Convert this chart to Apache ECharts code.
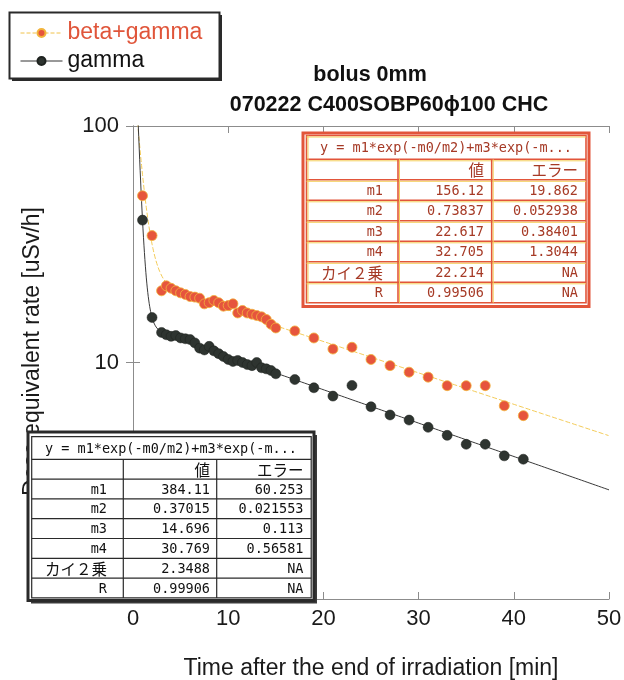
<!DOCTYPE html>
<html>
<head>
<meta charset="utf-8">
<script src="https://cdn.jsdelivr.net/npm/echarts@6/dist/echarts.min.js"></script>
<style>
  html, body { margin: 0; padding: 0; background: #ffffff; }
  #chart { width: 624px; height: 680px; }
</style>
</head>
<body>
<div id="chart"></div>
<script>
// Measurement times after the end of irradiation [min]
const timeMin = [
  1, 2,
  3, 3.5, 4, 4.5, 5, 5.5, 6, 6.5, 7, 7.5, 8, 8.5, 9, 9.5, 10, 10.5, 11, 11.5, 12, 12.5, 13, 13.5, 14, 14.5, 15,
  17, 19, 21, 23, 25, 27, 29, 31, 33, 35, 37, 39, 41
];
// Dose equivalent rate [uSv/h], beta+gamma
const doseBetaGamma = [
  50.7, 34.4,
  20.1, 21.1, 20.6, 20.1, 19.7, 19.4, 19.0, 18.9, 18.7, 17.7, 17.9, 18.3, 17.9, 17.3, 17.4, 17.7, 16.2, 16.6, 16.2, 16.0, 15.8, 15.6, 15.2, 14.5, 14.0,
  13.6, 12.7, 11.4, 11.6, 10.3, 9.7, 9.1, 8.67, 7.98, 7.98, 7.98, 6.56, 5.96
];
// Dose equivalent rate [uSv/h], gamma only
const doseGamma = [
  40.0, 15.5,
  13.4, 13.1, 12.9, 13.0, 12.7, 12.6, 12.5, 12.1, 11.5, 11.3, 11.7, 11.2, 10.9, 10.6, 10.3, 10.1, 10.2, 10.0, 9.8, 9.7, 10.0, 9.5, 9.4, 9.25, 8.96,
  8.47, 7.82, 7.21, 8.0, 6.5, 6.0, 5.71, 5.32, 4.92, 4.51, 4.51, 4.03, 3.90
];

// Axis ranges
const xRange = [0, 50];
const xStep = 10;
const yRange = [1, 100];

// Two-exponential fit parameters [m1, m2, m3, m4]
const fitBetaGamma = [156.12, 0.73837, 22.617, 32.705];
const fitGamma = [384.11, 0.37015, 14.696, 30.769];

// Fit result tables
const fitFormula = 'y = m1*exp(-m0/m2)+m3*exp(-m...';
const fitRowNames = ['', 'm1', 'm2', 'm3', 'm4', 'カイ２乗', 'R'];
const fitBGValues = ['値', '156.12', '0.73837', '22.617', '32.705', '22.214', '0.99506'];
const fitBGErrors = ['エラー', '19.862', '0.052938', '0.38401', '1.3044', 'NA', 'NA'];
const fitGValues = ['値', '384.11', '0.37015', '14.696', '30.769', '2.3488', '0.99906'];
const fitGErrors = ['エラー', '60.253', '0.021553', '0.113', '0.56581', 'NA', 'NA'];

const titleLines = ['bolus 0mm', '070222 C400SOBP60ϕ100 CHC'];

// ---- helpers ----
function pairs(xs, ys) { return xs.map((x, i) => [x, ys[i]]); }

// y = m1*exp(-t/m2) + m3*exp(-t/m4), sampled along the x range
function fitLine(p) {
  const out = [];
  for (let i = 0; i <= 1000; i++) {
    const t = xRange[0] + (xRange[1] - xRange[0]) * i / 1000;
    out.push([t, p[0] * Math.exp(-t / p[1]) + p[2] * Math.exp(-t / p[3])]);
  }
  return out;
}

const monoFont = "'DejaVu Sans Mono', 'Liberation Mono', monospace";
const cjkFont = "'Noto Sans CJK JP', sans-serif";

function cellText(str, x, y, align, color, z) {
  const cjk = /[^\x00-\x7f]/.test(str);
  return {
    type: 'text', z: z, silent: true,
    style: {
      text: str, x: x, y: y, align: align, verticalAlign: 'middle',
      fill: color,
      font: cjk ? ('15.5px ' + cjkFont) : ('13.5px ' + monoFont)
    }
  };
}

function hLine(x1, x2, y, color, w, z) {
  return { type: 'line', z: z, silent: true, shape: { x1: x1, y1: y, x2: x2, y2: y }, style: { stroke: color, lineWidth: w } };
}
function vLine(x, y1, y2, color, w, z) {
  return { type: 'line', z: z, silent: true, shape: { x1: x, y1: y1, x2: x, y2: y2 }, style: { stroke: color, lineWidth: w } };
}

function fitTable(t, values, errors) {
  const z = 60;
  const els = [];
  if (t.shadow) {
    els.push({ type: 'rect', z: z, silent: true,
      shape: { x: t.outer[0] + 3, y: t.outer[1] + 3, width: t.outer[2] - t.outer[0], height: t.outer[3] - t.outer[1] },
      style: { fill: t.shadow } });
  }
  els.push({ type: 'rect', z: z + 1, silent: true,
    shape: { x: t.outer[0], y: t.outer[1], width: t.outer[2] - t.outer[0], height: t.outer[3] - t.outer[1] },
    style: { fill: '#ffffff', stroke: t.line, lineWidth: t.outerW } });
  const bottom = t.headBottom + t.rowH * 7;
  els.push({ type: 'rect', z: z + 2, silent: true,
    shape: { x: t.left, y: t.top, width: t.right - t.left, height: bottom - t.top },
    style: { fill: 'none', stroke: t.line, lineWidth: t.innerW } });
  // row rules
  for (let r = 0; r < 7; r++) {
    const y = t.headBottom + t.rowH * r;
    els.push(hLine(t.left, t.right, y, t.line, t.innerW, z + 2));
    if (t.hi) els.push(hLine(t.left, t.right, y + 1.5, t.hi, 1, z + 2));
  }
  // column rules
  t.cols.forEach(cx => {
    els.push(vLine(cx, t.headBottom, bottom, t.line, t.innerW, z + 2));
    if (t.hi) els.push(vLine(cx + 1.5, t.headBottom, bottom, t.hi, 1, z + 2));
  });
  if (t.hi) {
    els.push(vLine(t.left + 1.5, t.top, bottom, t.hi, 1, z + 2));
    els.push(hLine(t.left, t.right, t.top + 1.5, t.hi, 1, z + 2));
  }
  // formula row
  els.push(cellText(fitFormula, t.formulaX, (t.top + t.headBottom) / 2 + 1, 'left', t.text, z + 3));
  for (let r = 0; r < 7; r++) {
    const cy = t.headBottom + t.rowH * (r + 0.5) + 1;
    if (fitRowNames[r]) els.push(cellText(fitRowNames[r], t.textX[0], cy, 'right', t.text, z + 3));
    els.push(cellText(values[r], t.textX[1], cy, 'right', t.text, z + 3));
    els.push(cellText(errors[r], t.textX[2], cy, 'right', t.text, z + 3));
  }
  return els;
}

const tableBG = {
  outer: [303, 133, 589, 306.5], outerW: 3,
  left: 306.5, right: 586, top: 135.5, headBottom: 159.3, rowH: 20.5,
  cols: [398, 491.7], textX: [383, 484, 578], formulaX: 320,
  line: '#e2553a', hi: '#f4cf5c', innerW: 1.6, text: '#a63a26', shadow: null
};
const tableG = {
  outer: [28, 432, 314, 600.5], outerW: 3,
  left: 31.7, right: 311.2, top: 436.7, headBottom: 459.3, rowH: 19.8,
  cols: [123.3, 216.7], textX: [107, 210, 303.5], formulaX: 45,
  line: '#2a2a2a', hi: null, innerW: 1.2, text: '#111111', shadow: '#3a3a3a'
};

const legendBox = [
  { type: 'rect', z: 1, silent: true, shape: { x: 12, y: 15, width: 210, height: 66 }, style: { fill: '#2a2a2a' } },
  { type: 'rect', z: 1, silent: true, shape: { x: 9.5, y: 12.5, width: 210, height: 66 }, style: { fill: '#ffffff', stroke: '#2a2a2a', lineWidth: 2 } }
];

const titleFont = "bold 21.5px 'Liberation Sans', Arial, sans-serif";
const titleEls = [
  { type: 'text', z: 5, silent: true, style: { text: titleLines[0], x: 370, y: 75, align: 'center', verticalAlign: 'middle', fill: '#111', font: titleFont } },
  { type: 'text', z: 5, silent: true, style: { text: titleLines[1], x: 389, y: 105, align: 'center', verticalAlign: 'middle', fill: '#111', font: titleFont } }
];

const axisColor = '#8c8c8c';
const labelFont = { fontSize: 22, color: '#1a1a1a', fontFamily: "'Liberation Sans', Arial, sans-serif" };

const chart = echarts.init(document.getElementById('chart'), null, { renderer: 'canvas' });
chart.setOption({
  animation: false,
  backgroundColor: '#ffffff',
  textStyle: { fontFamily: "'Liberation Sans', Arial, sans-serif" },
  grid: { left: 133, right: 15, top: 126, bottom: 81, containLabel: false, outerBoundsMode: 'none' },
  legend: {
    orient: 'vertical', left: 20, top: 21, padding: 0,
    itemWidth: 42, itemHeight: 10, itemGap: 4,
    selectedMode: false,
    textStyle: { fontSize: 23, lineHeight: 24, fontFamily: "'Liberation Sans', Arial, sans-serif" },
    data: [
      { name: 'beta+gamma', textStyle: { color: '#e0553a' },
        lineStyle: { opacity: 1, color: '#f0c24a', width: 1, type: [4, 2] } },
      { name: 'gamma', textStyle: { color: '#111111' },
        lineStyle: { opacity: 1, color: '#333333', width: 1, type: 'solid' } }
    ]
  },
  xAxis: [
    {
      type: 'value', position: 'bottom', min: xRange[0], max: xRange[1], interval: xStep,
      name: 'Time after the end of irradiation [min]', nameLocation: 'middle', nameGap: 58,
      nameTextStyle: { fontSize: 23, color: '#1a1a1a' },
      axisLine: { show: true, lineStyle: { color: axisColor, width: 1 } },
      axisTick: { show: true, inside: true, length: 7, lineStyle: { color: axisColor } },
      axisLabel: Object.assign({ margin: 9 }, labelFont),
      splitLine: { show: false }
    },
    {
      type: 'value', position: 'top', min: xRange[0], max: xRange[1], interval: xStep,
      axisLine: { show: true, lineStyle: { color: axisColor, width: 1 } },
      axisTick: { show: true, inside: true, length: 7, lineStyle: { color: axisColor } },
      axisLabel: { show: false }, splitLine: { show: false }
    }
  ],
  yAxis: [
    {
      type: 'log', logBase: 10, position: 'left', min: yRange[0], max: yRange[1],
      name: 'Dose equivalent rate [uSv/h]', nameLocation: 'middle', nameGap: 89,
      nameTextStyle: { fontSize: 23, color: '#1a1a1a', padding: [0, 0, 0, 22] },
      axisLine: { show: true, lineStyle: { color: axisColor, width: 1 } },
      axisTick: { show: true, inside: true, length: 7, lineStyle: { color: axisColor } },
      minorTick: { show: false },
      axisLabel: Object.assign({ margin: 14, showMinLabel: false }, labelFont),
      splitLine: { show: false }
    },
    {
      type: 'log', logBase: 10, position: 'right', min: yRange[0], max: yRange[1],
      axisLine: { show: true, lineStyle: { color: axisColor, width: 1 } },
      axisTick: { show: true, inside: true, length: 7, lineStyle: { color: axisColor } },
      axisLabel: { show: false }, splitLine: { show: false }
    }
  ],
  series: [
    {
      name: 'beta+gamma fit', type: 'line', data: fitLine(fitBetaGamma),
      showSymbol: false, silent: true, clip: true, z: 2,
      lineStyle: { color: '#f3cb58', width: 1, type: [5, 2] }
    },
    {
      name: 'gamma fit', type: 'line', data: fitLine(fitGamma),
      showSymbol: false, silent: true, clip: true, z: 2,
      lineStyle: { color: '#3a3a3a', width: 1 }
    },
    {
      name: 'beta+gamma', type: 'line', data: pairs(timeMin, doseBetaGamma),
      symbol: 'circle', symbolSize: 10, showAllSymbol: true, z: 3,
      lineStyle: { opacity: 0 },
      itemStyle: { color: '#e6553d', borderColor: '#f2b43c', borderWidth: 0.8 }
    },
    {
      name: 'gamma', type: 'line', data: pairs(timeMin, doseGamma),
      symbol: 'circle', symbolSize: 10, showAllSymbol: true, z: 3,
      lineStyle: { opacity: 0 },
      itemStyle: { color: '#2e3430', borderColor: '#1e221f', borderWidth: 0.5 }
    }
  ],
  graphic: {
    elements: [].concat(
      legendBox,
      titleEls,
      fitTable(tableBG, fitBGValues, fitBGErrors),
      fitTable(tableG, fitGValues, fitGErrors)
    )
  }
});
</script>
</body>
</html>
